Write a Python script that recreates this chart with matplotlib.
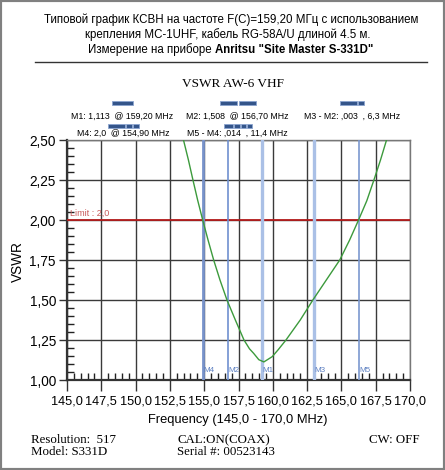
import matplotlib
matplotlib.use("Agg")
import matplotlib.pyplot as plt
from matplotlib.patches import Rectangle
from matplotlib.ticker import MultipleLocator, FuncFormatter
from matplotlib.transforms import blended_transform_factory

# curve (MHz, VSWR)
freq = [153.30, 153.49, 153.85, 154.18, 154.52, 154.89, 155.28, 155.69, 156.15,
        156.66, 157.27, 157.90, 158.30, 158.60, 158.98, 159.35, 159.96, 160.40,
        160.96, 162.00, 162.92, 163.90, 164.88, 165.60, 166.25, 166.85, 167.37,
        167.85, 168.29, 168.45]
vswr = [2.57, 2.50, 2.375, 2.25, 2.125, 2.00, 1.875, 1.75, 1.625,
        1.50, 1.375, 1.25, 1.195, 1.167, 1.127, 1.113, 1.146, 1.19,
        1.25, 1.375, 1.50, 1.625, 1.75, 1.875, 2.00, 2.12, 2.25,
        2.375, 2.50, 2.54]

limit = 2.0
marker_names = ["M4", "M2", "M1", "M3", "M5"]
marker_freq = [154.9, 156.7, 159.2, 163.0, 166.3]

header_lines = ["Типовой график КСВН на частоте F(C)=159,20 МГц с использованием",
                "крепления MC-1UHF, кабель RG-58A/U длиной 4.5 м."]
header_plain = "Измерение на приборе "
header_bold = "Anritsu \"Site Master S-331D\""
legend_row1 = ["M1: 1,113  @ 159,20 MHz", "M2: 1,508  @ 156,70 MHz", "M3 - M2: ,003  , 6,3 MHz"]
legend_row2 = ["M4: 2,0  @ 154,90 MHz", "M5 - M4: ,014  , 11,4 MHz"]

W, H = 445, 470
fig = plt.figure(figsize=(W / 100, H / 100), dpi=100)

def fx(px):
    return px / W

def fy(py):
    return 1 - py / H

sans = "Liberation Sans"
serif = "Liberation Serif"

# header
fig.text(fx(231), fy(20), header_lines[0], ha="center", va="center", fontsize=8.3, family=sans)
fig.text(fx(228), fy(35), header_lines[1], ha="center", va="center", fontsize=8.3, family=sans)
t1 = fig.text(0, fy(50), header_plain, ha="left", va="center", fontsize=8.3, family=sans)
t2 = fig.text(0, fy(50), header_bold, ha="left", va="center", fontsize=8.3, family=sans, weight="bold")
fig.canvas.draw()
r = fig.canvas.get_renderer()
w1 = t1.get_window_extent(r).width
w2 = t2.get_window_extent(r).width
x0 = 231 - (w1 + w2) / 2
t1.set_x(fx(x0))
t2.set_x(fx(x0 + w1))

fig.add_artist(plt.Line2D([fx(35), fx(427)], [fy(62), fy(62)], color="#333333", lw=1))

fig.text(fx(233), fy(84), "VSWR AW-6 VHF", ha="center", va="center", fontsize=9.5, family=serif)

# marker legend
for txt, px in zip(legend_row1, [71, 186, 304]):
    fig.text(fx(px), fy(116), txt, ha="left", va="center", fontsize=6.3, family=sans)
for txt, px in zip(legend_row2, [77, 187]):
    fig.text(fx(px), fy(133), txt, ha="left", va="center", fontsize=6.3, family=sans)

bars = [(112, 101, 21), (220, 101, 17), (239, 101, 17), (340, 101, 17), (358, 101, 6),
        (108, 124, 17), (126, 124, 6), (133, 124, 6),
        (224, 124, 9), (234, 124, 6), (241, 124, 5), (247, 124, 5)]
for bx, by, bw in bars:
    fig.add_artist(Rectangle((fx(bx), fy(by + 4)), bw / W, 4 / H, transform=fig.transFigure,
                             facecolor="#34558a", edgecolor="#8aa4cf", lw=0.6))

# plot
ax = fig.add_axes([fx(67), fy(380), 343 / W, 240 / H])
ax.plot(freq, vswr, color="#3c9a3c", lw=1, zorder=4)
ax.axhline(limit, color="#b51c1c", lw=1.3, zorder=3)
ax.text(145.2, limit + 0.015, "Limit : 2,0", color="#c85a5a", fontsize=6.5, family=sans, va="bottom")

styles = {"M4": ("#7893cb", 2.0), "M2": ("#6f90d0", 1.2), "M1": ("#aac0e6", 2.4),
          "M3": ("#aac0e6", 2.4), "M5": ("#7b98cf", 1.2)}
trans = blended_transform_factory(ax.transData, ax.transAxes)
for name, f in zip(marker_names, marker_freq):
    c, lw = styles[name]
    ax.axvline(f, color=c, lw=lw, zorder=3)
    ax.text(f + 0.03, 0.04, name, transform=trans, color="#5d80c2", fontsize=5.8,
            family=sans, va="center", ha="left", zorder=5)

ax.set_xlim(145, 170)
ax.set_ylim(1.0, 2.5)
ax.xaxis.set_major_locator(MultipleLocator(2.5))
ax.xaxis.set_minor_locator(MultipleLocator(0.5))
ax.yaxis.set_major_locator(MultipleLocator(0.25))
ax.yaxis.set_minor_locator(MultipleLocator(0.05))
ax.xaxis.set_major_formatter(FuncFormatter(lambda v, p: f"{v:.1f}".replace(".", ",")))
ax.yaxis.set_major_formatter(FuncFormatter(lambda v, p: f"{v:.2f}".replace(".", ",")))
ax.grid(True, which="major", color="#3a3a3a", lw=1, zorder=1)
ax.set_axisbelow(True)

ax.tick_params(axis="x", which="major", direction="out", length=8, width=1, pad=3,
               labelsize=9.2, color="#333333")
ax.tick_params(axis="y", which="major", direction="out", length=6, width=1, pad=2,
               labelsize=9.8, color="#333333")
ax.tick_params(which="minor", direction="in", length=5, width=1, color="#222222")
for lab in ax.get_xticklabels() + ax.get_yticklabels():
    lab.set_family(sans)

for s in ["top", "right"]:
    ax.spines[s].set_color("#777777")
    ax.spines[s].set_linewidth(1)
for s in ["left", "bottom"]:
    ax.spines[s].set_color("#333333")
    ax.spines[s].set_linewidth(1.6)

fig.text(fx(238), fy(420), "Frequency (145,0 - 170,0 MHz)", ha="center", va="center",
         fontsize=9.3, family=sans)
fig.text(fx(18), fy(262), "VSWR", ha="center", va="center", rotation=90,
         fontsize=9.8, family=sans)

# footer
fig.text(fx(31), fy(440), "Resolution:  517", ha="left", va="center", fontsize=9.3, family=serif)
fig.text(fx(31), fy(452), "Model: S331D", ha="left", va="center", fontsize=9.3, family=serif)
fig.text(fx(178), fy(440), "CAL:ON(COAX)", ha="left", va="center", fontsize=9.3, family=serif)
fig.text(fx(177), fy(452), "Serial #: 00523143", ha="left", va="center", fontsize=9.3, family=serif)
fig.text(fx(369), fy(440), "CW: OFF", ha="left", va="center", fontsize=9.3, family=serif)

fig.add_artist(Rectangle((0, 0), 1, 1, transform=fig.transFigure, fill=False,
                         edgecolor="#808080", lw=3))

fig.savefig("out.png", dpi=100)
